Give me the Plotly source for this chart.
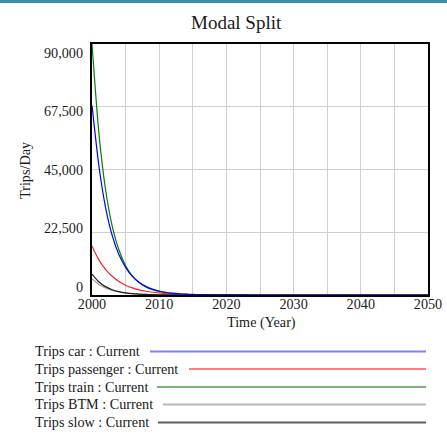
import plotly.graph_objects as go

# ---------------- data ----------------
years = list(range(2000, 2051))

trips_car = [68000, 46800, 31600, 21400, 14500, 9900, 6700, 4600, 3100, 2100,
             1450, 980, 670, 450, 310, 210, 140, 100, 65, 45,
             30, 20, 14, 10, 7, 5, 3, 2, 1, 1,
             0, 0, 0, 0, 0, 0, 0, 0, 0, 0,
             0, 0, 0, 0, 0, 0, 0, 0, 0, 0, 0]
trips_passenger = [17500, 12700, 9200, 6700, 4850, 3520, 2550, 1850, 1340, 975,
                   710, 515, 370, 270, 195, 140, 100, 75, 55, 40,
                   28, 20, 15, 11, 8, 6, 4, 3, 2, 1,
                   1, 0, 0, 0, 0, 0, 0, 0, 0, 0,
                   0, 0, 0, 0, 0, 0, 0, 0, 0, 0, 0]
trips_train = [90000, 58600, 38100, 24800, 16200, 10500, 6850, 4460, 2900, 1890,
               1230, 800, 520, 340, 220, 145, 95, 60, 40, 25,
               17, 11, 7, 5, 3, 2, 1, 1, 0, 0,
               0, 0, 0, 0, 0, 0, 0, 0, 0, 0,
               0, 0, 0, 0, 0, 0, 0, 0, 0, 0, 0]
trips_btm = [5800, 3800, 2500, 1640, 1080, 710, 465, 305, 200, 130,
             86, 56, 37, 24, 16, 10, 7, 4, 3, 2,
             1, 1, 0, 0, 0, 0, 0, 0, 0, 0,
             0, 0, 0, 0, 0, 0, 0, 0, 0, 0,
             0, 0, 0, 0, 0, 0, 0, 0, 0, 0, 0]
trips_slow = [7500, 4740, 3000, 1890, 1200, 760, 480, 300, 190, 120,
              76, 48, 30, 19, 12, 8, 5, 3, 2, 1,
              1, 0, 0, 0, 0, 0, 0, 0, 0, 0,
              0, 0, 0, 0, 0, 0, 0, 0, 0, 0,
              0, 0, 0, 0, 0, 0, 0, 0, 0, 0, 0]

series_names = ["Trips car : Current", "Trips passenger : Current", "Trips train : Current",
                "Trips BTM : Current", "Trips slow : Current"]
series_values = [trips_car, trips_passenger, trips_train, trips_btm, trips_slow]
line_colors = ["#0000ff", "#ff2020", "#008000", "#a0a0a0", "#202020"]
legend_colors = ["#7f7fff", "#ff8080", "#74b874", "#b8b8b8", "#606060"]

x_tickvals = list(range(2000, 2051, 5))
x_ticktext = ["2000", "", "2010", "", "2020", "", "2030", "", "2040", "", "2050"]
y_tickvals = [0, 22500, 45000, 67500, 90000]
y_ticktext = ["0", "22,500", "45,000", "67,500", "90,000"]

# ---------------- layout geometry ----------------
W, H = 447, 434
FIG_W = W - 8          # page body margin is counted when the page width is measured
L, R, T, B = 92, 428, 44, 295
FONT = "Liberation Serif, Times New Roman, serif"
FS = 14.2


def px_x(x):
    return (x - L) / (R - L)


def px_y(y):
    return (B - y) / (B - T)


fig = go.Figure()

# draw order: car last so it sits on top
draw_order = [2, 1, 3, 4, 0]
for i in draw_order:
    fig.add_trace(go.Scatter(
        x=years, y=series_values[i], mode="lines", name=series_names[i],
        line=dict(color=line_colors[i], width=1.2, shape="spline", smoothing=0.6),
        showlegend=False, hoverinfo="skip"))

# empty trace so the overlay label axis gets drawn
fig.add_trace(go.Scatter(x=[], y=[], yaxis="y2", showlegend=False, hoverinfo="skip"))

# y tick labels sit on an overlay axis (labels are spaced slightly differently from gridlines)
lab_top_px, lab_bot_px = 53, 287
per_px = (y_tickvals[-1] - y_tickvals[0]) / (lab_bot_px - lab_top_px)
y2_range = [y_tickvals[0] - (B - lab_bot_px) * per_px, y_tickvals[-1] + (lab_top_px - T) * per_px]

fig.update_layout(
    width=FIG_W, height=H,
    margin=dict(l=L, r=FIG_W - R, t=T, b=H - B, pad=0, autoexpand=False),
    paper_bgcolor="white", plot_bgcolor="white",
    font=dict(family=FONT, size=FS, color="#1a1a1a"),
    showlegend=False,
    xaxis=dict(range=[2000, 2050], tickvals=x_tickvals, ticktext=x_ticktext,
               showgrid=True, gridcolor="#cfcfcf", gridwidth=1,
               showline=True, linecolor="black", linewidth=2, mirror=True,
               ticks="", zeroline=False, tickfont=dict(size=FS, family=FONT),
               ticklabelstandoff=-5, ticklabeloverflow="allow"),
    yaxis=dict(range=[0, 90000], tickvals=y_tickvals, showticklabels=False,
               showgrid=True, gridcolor="#cfcfcf", gridwidth=1,
               showline=True, linecolor="black", linewidth=2, mirror=True,
               ticks="", zeroline=False),
    yaxis2=dict(range=y2_range, overlaying="y", side="left", anchor="x", tickvals=y_tickvals,
                ticktext=y_ticktext, showgrid=False, zeroline=False, showline=False,
                ticks="", tickfont=dict(size=FS, family=FONT), ticklabelstandoff=8,
                ticklabeloverflow="allow"),
)

annotations = [
    dict(text="Modal Split", x=px_x(236), y=px_y(22), xref="paper", yref="paper",
         showarrow=False, font=dict(size=19, family=FONT, color="#1a1a1a"),
         xanchor="center", yanchor="middle"),
    dict(text="Time (Year)", x=px_x(261), y=px_y(322), xref="paper", yref="paper",
         showarrow=False, font=dict(size=FS, family=FONT), xanchor="center", yanchor="middle"),
    dict(text="Trips/Day", x=px_x(25), y=px_y(170), xref="paper", yref="paper",
         showarrow=False, font=dict(size=FS, family=FONT), textangle=-90,
         xanchor="center", yanchor="middle"),
]

shapes = [
    dict(type="rect", xref="paper", yref="paper", x0=px_x(0), x1=px_x(W), y0=px_y(3), y1=px_y(0),
         fillcolor="#3a8fa6", line=dict(width=0), layer="above"),
]

legend_rows_px = [351, 368.5, 386.5, 404, 422]
legend_line_start_px = [150, 189, 157, 163, 158]
for name, col, ypx, x0 in zip(series_names, legend_colors, legend_rows_px, legend_line_start_px):
    annotations.append(dict(text=name, x=px_x(33), y=px_y(ypx), xref="paper", yref="paper",
                            showarrow=False, xanchor="left", yanchor="middle",
                            font=dict(size=FS, family=FONT, color="#1a1a1a")))
    shapes.append(dict(type="line", xref="paper", yref="paper", x0=px_x(x0), x1=px_x(426),
                       y0=px_y(ypx + 0.5), y1=px_y(ypx + 0.5), line=dict(color=col, width=2)))

fig.update_layout(annotations=annotations, shapes=shapes)

post = (
    "document.body.style.margin='0';document.body.style.padding='0';"
    "var svgs=document.querySelectorAll('.main-svg');"
    "for(var k=0;k<svgs.length;k++){svgs[k].style.overflow='visible';}"
    "var cs=document.querySelectorAll('.svg-container');"
    "for(var k=0;k<cs.length;k++){cs[k].style.overflow='visible';}"
)

fig.write_html("out.html",
               config={"displayModeBar": False, "responsive": False},
               post_script=post)
